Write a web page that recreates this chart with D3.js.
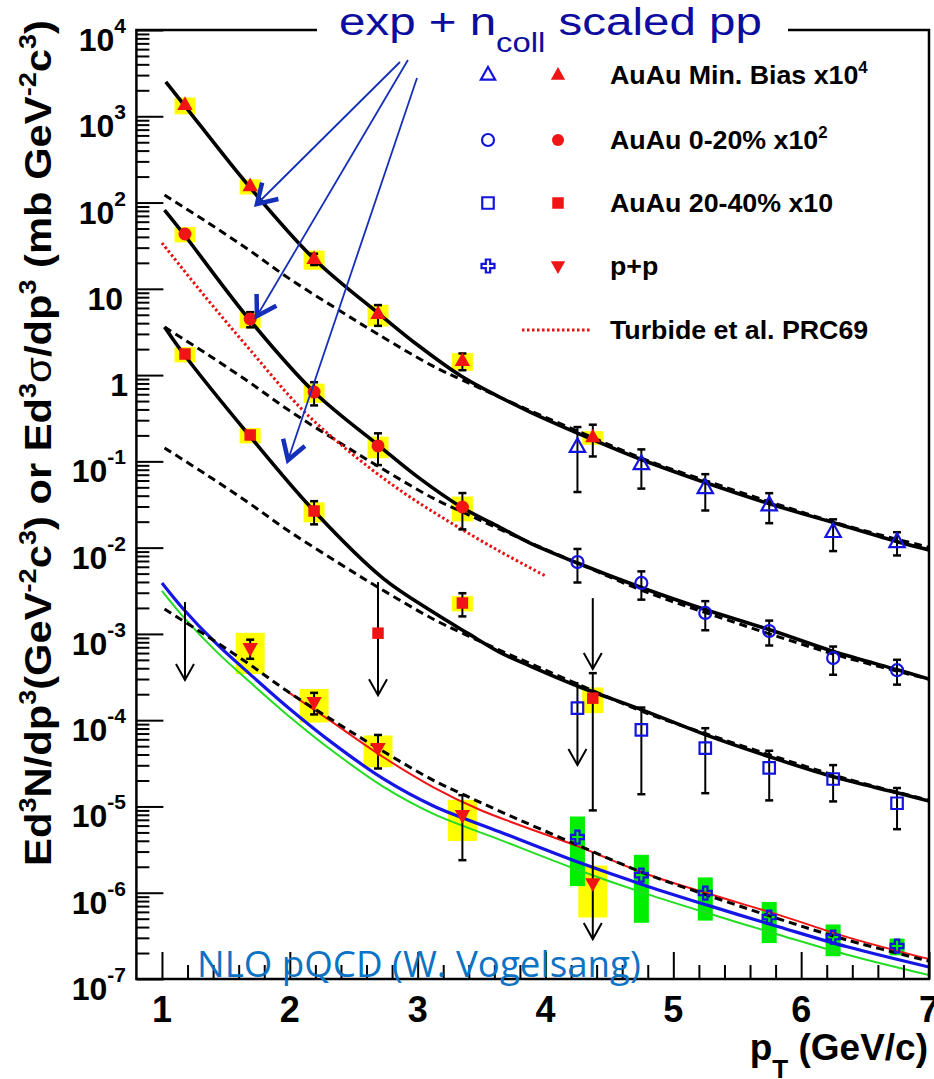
<!DOCTYPE html>
<html><head><meta charset="utf-8">
<script src="https://cdn.jsdelivr.net/npm/d3@7"></script>
<style>
body{margin:0;background:#fff}
svg{display:block}
text{font-family:"Liberation Sans",Arial,Helvetica,sans-serif}
</style>
</head><body>
<svg id="c" width="934" height="1079"></svg>
<script>
// ---------------- DATA ----------------
const xTicksMajor = [1,2,3,4,5,6,7];
const yExponents = [4,3,2,1,0,-1,-2,-3,-4,-5,-6,-7];

// AuAu Min. Bias x10^4 (red filled triangles, low pT)
const mbPt   = [1.18,1.69,2.19,2.69,3.35,4.37];
const mbY    = [1350,155,22.2,5.10,1.46,0.19];
const mbStat = [0,0,0.15,0.27,0.22,0.40];
const mbSys  = [0.22,0.20,0.25,0.28,0.23,0.18];
// AuAu 0-20% x10^2 (red filled circles)
const c020Pt   = [1.18,1.69,2.19,2.69,3.35];
const c020Y    = [43.2,4.47,0.636,0.151,0.0296];
const c020Stat = [0,0.2,0.3,0.4,0.45];
const c020Sys  = [0.2,0.22,0.25,0.28,0.32];
// AuAu 20-40% x10 (red filled squares)
const c2040Pt   = [1.18,1.69,2.19,2.69,3.35,4.37];
const c2040Y    = [1.755,0.202,0.0266,1.02e-3,2.28e-3,1.8e-4];
const c2040Stat = [0,0,0.3,0,0.3,0.95];
const c2040Sys  = [0.2,0.2,0.26,0,0.2,0.33];
// p+p (red filled down triangles)
const ppPt   = [1.69,2.19,2.69,3.35,4.37];
const ppY    = [6.86e-4,1.62e-4,4.75e-5,7.95e-6,1.29e-6];
const ppStat = [0.25,0.28,0.42,0.70,0];
const ppSys  = [0.5,0.42,0.40,0.50,0.6];

// high pT (open blue markers)
const hiPt = [4.25,4.75,5.25,5.75,6.25,6.75];
const mbHiY      = [0.147,0.093,0.049,0.031,0.0152,0.0116];
const mbHiStat   = [0.70,0.48,0.45,0.38,0.40,0.30];
const c020HiY    = [6.8e-3,3.9e-3,1.75e-3,1.08e-3,5.25e-4,3.8e-4];
const c020HiStat = [0.42,0.36,0.37,0.32,0.36,0.32];
const c2040HiY   = [1.38e-4,7.7e-5,4.75e-5,2.8e-5,2.08e-5,1.09e-5];
const c2040HiStat= [0,0.82,0.70,0.58,0.45,0.50];
const ppHiY      = [4.42e-6,1.60e-6,9.9e-7,5.22e-7,3.06e-7,2.41e-7];
const ppHiSys    = [0.73,0.72,0.52,0.50,0.40,0.22];

// upper-limit arrows (pT, from, to)
const ulPt  = [1.18,2.69,4.37,4.25,4.37];
const ulTop = [2.34e-3,3.99e-3,2.6e-3,2.77e-4,2.96e-6];
const ulBot = [2.92e-4,1.95e-4,3.92e-4,3.02e-5,2.9e-7];

// fits: exp + ncoll scaled pp (solid)
const fitMbPt = [1.03,1.18,1.68,2.19,2.70,3.00,3.34,3.64,3.88,4.25,4.76,5.26,5.76,6.26,6.76,7.0];
const fitMbY  = [2500,1315,155,22.2,5.1,2.23,0.975,0.557,0.373,0.213,0.1036,0.0561,0.032,0.0193,0.0116,0.0094];
const fit020Pt = [1.02,1.17,1.68,2.19,2.70,3.00,3.34,3.64,3.88,4.25,4.76,5.26,5.76,6.26,6.76,7.0];
const fit020Y  = [81.9,43.2,4.47,0.636,0.1506,0.066,0.0296,0.0173,0.0113,6.63e-3,3.40e-3,1.89e-3,1.109e-3,6.2e-4,3.81e-4,3.0e-4];
const fit2040Pt = [1.02,1.17,1.68,2.19,2.73,3.12,3.39,3.64,3.88,4.25,4.76,5.26,5.76,6.26,6.76,7.0];
const fit2040Y  = [3.61,1.755,0.202,0.02655,4.4e-3,1.79e-3,1.02e-3,6.16e-4,4.24e-4,2.49e-4,1.31e-4,6.72e-5,3.74e-5,2.19e-5,1.43e-5,1.155e-5];

// ncoll scaled pp (dashed)
const dashPt    = [1.02,1.34,1.67,1.99,2.37,2.70,3.12,3.35,3.64,4.27,4.79,5.31,5.83,6.36,7.0];
const ppDash    = [1.94e-3,9.70e-4,4.59e-4,2.12e-4,9.26e-5,4.63e-5,2.02e-5,1.392e-5,8.84e-6,3.47e-6,1.645e-6,8.9e-7,4.95e-7,2.83e-7,1.61e-7];
const mbDash    = [122,61.0,28.9,13.3,5.83,2.91,1.27,0.876,0.556,0.218,0.1035,0.056,0.0312,0.0178,0.0101];
const c020Dash  = [3.60,1.80,0.852,0.394,0.172,0.086,0.0375,0.0259,0.0164,6.44e-3,3.05e-3,1.65e-3,9.19e-4,5.26e-4,2.99e-4];
const c2040Dash = [0.143,0.0713,0.0337,0.0156,6.81e-3,3.40e-3,1.49e-3,1.02e-3,6.50e-4,2.55e-4,1.21e-4,6.54e-5,3.64e-5,2.08e-5,1.18e-5];

// Turbide et al. PRC69 (red dotted)
const turbPt = [1.0,1.34,1.69,2.10,2.47,2.86,3.25,3.64,4.0];
const turbY  = [34.0,8.04,1.95,0.394,0.128,0.0465,0.0198,9.1e-3,4.7e-3];

// NLO pQCD
const nloPt    = [1.0,1.16,1.43,1.69,2.0,2.34,2.73,3.12,3.64,4.27,4.79,5.31,5.83,6.36,7.0];
const nloBlue  = [3.89e-3,2.0e-3,7.6e-4,3.4e-4,1.35e-4,5.35e-5,2.1e-5,1.02e-5,5.1e-6,2.22e-6,1.2e-6,6.85e-7,4.0e-7,2.36e-7,1.375e-7];
const nloGreen = [3.15e-3,1.62e-3,6.15e-4,2.75e-4,1.09e-4,4.33e-5,1.7e-5,8.26e-6,4.13e-6,1.8e-6,9.7e-7,5.55e-7,3.24e-7,1.91e-7,1.11e-7];
const nloRedPt = [1.99,2.31,2.73,3.12,3.49,4.27,4.79,5.31,5.83,6.36,7.0];
const nloRed   = [2.1e-4,1.0e-4,3.74e-5,1.68e-5,9.1e-6,3.38e-6,1.65e-6,9.4e-7,5.5e-7,3.06e-7,1.7e-7];

// annotation arrows (data coords: start -> tip)
const annStart = [[2.862,4256],[2.924,4490],[2.995,2777]];
const annTip   = [[1.743,96.2],[1.743,4.84],[1.986,0.1035]];

const legendLabels = [["AuAu Min. Bias x10","4"],["AuAu 0-20% x10","2"],["AuAu 20-40% x10",""],["p+p",""],["Turbide et al. PRC69",""]];

// ---------------- DRAW ----------------
const svg = d3.select('#c');
const x = d3.scaleLinear().domain([0.8,7]).range([136.4,929]);
const y = d3.scaleLog().domain([1e-7,1e4]).range([979,30]);
const RED="#f01414", BLUE="#1414e0", YEL="#ffff00", GRN="#00ee00";

svg.append('clipPath').attr('id','clip').append('rect')
  .attr('x',136.4).attr('y',30).attr('width',929-136.4).attr('height',979-30);

const boxes = svg.append('g');
const curves = svg.append('g').attr('clip-path','url(#clip)');
const errs = svg.append('g');
const marks = svg.append('g');

function sysBoxes(pts, vals, sys, hw, color){
  pts.forEach((p,i)=>{
    if(!sys[i]) return;
    const v=vals[i], s=sys[i];
    boxes.append('rect').attr('x',x(p)-hw).attr('width',2*hw)
      .attr('y',y(v*(1+s))).attr('height',y(v*(1-s))-y(v*(1+s))).attr('fill',color);
  });
}
sysBoxes(mbPt,mbY,mbSys,10.5,YEL);
sysBoxes(c020Pt,c020Y,c020Sys,10.5,YEL);
sysBoxes(c2040Pt,c2040Y,c2040Sys,10.5,YEL);
sysBoxes(ppPt,ppY,ppSys,14.5,YEL);
sysBoxes(hiPt,ppHiY,ppHiSys,7.5,GRN);

function curve(pts, vals, color, width, dash){
  const data = pts.map((p,i)=>[p,vals[i]]);
  const line = d3.line().x(d=>x(d[0])).y(d=>y(d[1])).curve(d3.curveCatmullRom.alpha(0.5));
  const path = curves.append('path').datum(data).attr('d',line)
    .attr('fill','none').attr('stroke',color).attr('stroke-width',width);
  if(dash) path.attr('stroke-dasharray',dash);
}
curve(nloPt,nloGreen,"#22dd22",2);
curve(nloRedPt,nloRed,"#f01414",2);
curve(nloPt,nloBlue,"#1515e6",3.2);
curve(dashPt,ppDash,"#000",3,"8,5");
curve(dashPt,mbDash,"#000",3,"8,5");
curve(dashPt,c020Dash,"#000",3,"8,5");
curve(dashPt,c2040Dash,"#000",3,"8,5");
curve(turbPt,turbY,"#e81010",3,"2.5,2.5");
curve(fitMbPt,fitMbY,"#000",3.6);
curve(fit020Pt,fit020Y,"#000",3.6);
curve(fit2040Pt,fit2040Y,"#000",3.6);

function errBars(pts, vals, st){
  pts.forEach((p,i)=>{
    if(!st[i]) return;
    const v=vals[i], s=st[i], xp=x(p);
    const y1=y(v*(1+s)), y2=y(v*(1-s));
    errs.append('line').attr('x1',xp).attr('x2',xp).attr('y1',y1).attr('y2',y2).attr('stroke','#000').attr('stroke-width',2);
    [y1,y2].forEach(yy=>errs.append('line').attr('x1',xp-4).attr('x2',xp+4).attr('y1',yy).attr('y2',yy).attr('stroke','#000').attr('stroke-width',2.5));
  });
}
errBars(mbPt,mbY,mbStat);
errBars(c020Pt,c020Y,c020Stat);
errBars(c2040Pt,c2040Y,c2040Stat);
errBars(ppPt,ppY,ppStat);
errBars(hiPt,mbHiY,mbHiStat);
errBars(hiPt,c020HiY,c020HiStat);
errBars(hiPt,c2040HiY,c2040HiStat);

ulPt.forEach((p,i)=>{
  const xp=x(p), y1=y(ulTop[i]), y2=y(ulBot[i]);
  errs.append('line').attr('x1',xp).attr('x2',xp).attr('y1',y1).attr('y2',y2).attr('stroke','#000').attr('stroke-width',2);
  errs.append('path').attr('d',`M${xp-9},${y2-16}L${xp},${y2}L${xp+9},${y2-16}`)
    .attr('fill','none').attr('stroke','#000').attr('stroke-width',2);
});

// marker shapes
const SH = {
  triUp:  (s)=>`M0,${-s*0.62}L${s*0.55},${s*0.36}L${-s*0.55},${s*0.36}Z`,
  triDown:(s)=>`M0,${s*0.62}L${s*0.55},${-s*0.36}L${-s*0.55},${-s*0.36}Z`,
  circle: (s)=>d3.symbol(d3.symbolCircle, Math.PI*s*s/4)(),
  square: (s)=>`M${-s/2},${-s/2}h${s}v${s}h${-s}Z`,
  cross:  (s)=>{const h=s/2,a=s/6;return `M${-a},${-h}H${a}V${-a}H${h}V${a}H${a}V${h}H${-a}V${a}H${-h}V${-a}H${-a}Z`;}
};
function marker(g, shape, px, py, size, filled, color){
  const p = g.append('path').attr('d',SH[shape](size)).attr('transform',`translate(${px},${py})`);
  if(filled) p.attr('fill',color).attr('stroke','none');
  else p.attr('fill','none').attr('stroke',color).attr('stroke-width',2.2);
}
mbPt.forEach((p,i)=>marker(marks,'triUp',x(p),y(mbY[i]),14,true,RED));
c020Pt.forEach((p,i)=>marker(marks,'circle',x(p),y(c020Y[i]),13,true,RED));
c2040Pt.forEach((p,i)=>marker(marks,'square',x(p),y(c2040Y[i]),11.5,true,RED));
ppPt.forEach((p,i)=>marker(marks,'triDown',x(p),y(ppY[i]),14,true,RED));
hiPt.forEach((p,i)=>{
  marker(marks,'triUp',x(p),y(mbHiY[i]),14,false,BLUE);
  marker(marks,'circle',x(p),y(c020HiY[i]),12,false,BLUE);
  marker(marks,'square',x(p),y(c2040HiY[i]),11.5,false,BLUE);
  marker(marks,'cross',x(p),y(ppHiY[i]),13,false,BLUE);
});

// axes (ticks inward)
const axG = svg.append('g');
const yMinor=[]; for(let e=-7;e<4;e++) for(let k=2;k<10;k++) yMinor.push(k*Math.pow(10,e));
const xMinor=[]; for(let v=1.2; v<7; v+=0.2){ if(Math.abs(v-Math.round(v))>0.01) xMinor.push(+v.toFixed(1)); }
function styleAxis(g){ g.select('.domain').remove(); g.selectAll('line').attr('stroke','#000').attr('stroke-width',2); g.selectAll('text').remove(); }
axG.append('g').attr('transform','translate(136.4,0)').call(d3.axisLeft(y).tickValues(yExponents.map(e=>Math.pow(10,e))).tickSize(-27).tickFormat('')).call(styleAxis);
axG.append('g').attr('transform','translate(136.4,0)').call(d3.axisLeft(y).tickValues(yMinor).tickSize(-13).tickFormat('')).call(styleAxis);
axG.append('g').attr('transform','translate(0,979)').call(d3.axisBottom(x).tickValues(xTicksMajor).tickSize(-27).tickFormat('')).call(styleAxis);
axG.append('g').attr('transform','translate(0,979)').call(d3.axisBottom(x).tickValues(xMinor).tickSize(-14).tickFormat('')).call(styleAxis);

// frame
const fr = svg.append('g').attr('stroke','#000').attr('stroke-width',2.5).attr('fill','none');
fr.append('path').attr('d',`M317,30H136.4V979H929V30H788`);

// y tick labels
yExponents.forEach(e=>{
  const ty=y(Math.pow(10,e));
  const t=svg.append('text').attr('x',e===0?128:(e===1?123:126)).attr('y',ty+21)
    .attr('text-anchor','end').attr('font-weight','bold').attr('font-size',32);
  if(e===0) t.text('1');
  else if(e===1) t.text('10');
  else { t.append('tspan').text('10'); t.append('tspan').attr('dy',-18).attr('font-size',21).text(String(e)); }
});
// x tick labels
xTicksMajor.forEach(v=>{
  svg.append('text').attr('x',x(v)).attr('y',1022).attr('text-anchor','middle')
    .attr('font-weight','bold').attr('font-size',36).text(v);
});
// x title
const xt = svg.append('text').attr('x',928).attr('y',1060).attr('text-anchor','end')
  .attr('font-weight','bold').attr('font-size',37);
xt.append('tspan').text('p');
xt.append('tspan').attr('dy',18).attr('font-size',26).text('T');
xt.append('tspan').attr('dy',-18).text(' (GeV/c)');

// y title
const ytG = svg.append('g');
const yt = ytG.append('text').attr('text-anchor','middle').attr('font-weight','bold').attr('font-size',37);
const ytParts = [["Ed",0],["3",1],["N/dp",0],["3",1],["(GeV",0],["-2",1],["c",0],["3",1],[") or Ed",0],["3",1],["σ",2],["/dp",0],["3",1],[" (mb GeV",0],["-2",1],["c",0],["3",1],[")",0]];
let prevSup=false;
ytParts.forEach(([s,k])=>{
  const ts=yt.append('tspan').text(s);
  if(k===1){ ts.attr('font-size',24).attr('dy',prevSup?0:-15); prevSup=true; }
  else { if(prevSup) ts.attr('dy',15); prevSup=false; if(k===2) ts.attr('font-weight','normal'); }
});
{
  const bb=yt.node().getBBox();
  const k=846/bb.width;
  ytG.attr('transform',`translate(51,443) rotate(-90) scale(${k},1)`);
}

// title
const tG = svg.append('g');
const tt = tG.append('text').attr('font-size',39).attr('fill','#0c0c9e');
tt.append('tspan').text('exp + n');
tt.append('tspan').attr('dy',17).attr('font-size',27).text('coll');
tt.append('tspan').attr('dy',-17).text(' scaled pp');
{ const bb=tt.node().getBBox(); tG.attr('transform',`translate(339,35) scale(${423/bb.width},1)`); }

// NLO label
const nG = svg.append('g');
const nt = nG.append('text').attr('font-size',36).attr('fill','#0b72c4')
  .style('font-family','"Open Sans","Noto Sans",sans-serif').text('NLO pQCD (W. Vogelsang)');
{ const bb=nt.node().getBBox(); nG.attr('transform',`translate(197,977) scale(${444/bb.width},1)`); }

// annotation arrows
const ann = svg.append('g').attr('stroke','#1530b8').attr('fill','none');
annStart.forEach((s,i)=>{
  const x0=x(s[0]), y0=y(s[1]), x1=x(annTip[i][0]), y1=y(annTip[i][1]);
  ann.append('line').attr('x1',x0).attr('y1',y0).attr('x2',x1).attr('y2',y1).attr('stroke-width',1.8);
  const ang=Math.atan2(y0-y1,x0-x1), L=22, hA=0.55;
  const a1=[x1+L*Math.cos(ang+hA), y1+L*Math.sin(ang+hA)], a2=[x1+L*Math.cos(ang-hA), y1+L*Math.sin(ang-hA)];
  ann.append('path').attr('d',`M${a1}L${x1},${y1}L${a2}`).attr('stroke-width',4.5).attr('stroke-linejoin','miter');
});

// legend
const rows=[75,140,203,266,330];
const lg = svg.append('g');
marker(lg,'triUp',488,rows[0],13,false,BLUE); marker(lg,'triUp',558,rows[0],13,true,RED);
marker(lg,'circle',488,rows[1],12,false,BLUE); marker(lg,'circle',558,rows[1],12,true,RED);
marker(lg,'square',488,rows[2],11.5,false,BLUE); marker(lg,'square',558,rows[2],11.5,true,RED);
marker(lg,'cross',488,rows[3],13,false,BLUE); marker(lg,'triDown',558,rows[3],13,true,RED);
lg.append('line').attr('x1',522).attr('x2',592).attr('y1',rows[4]).attr('y2',rows[4])
  .attr('stroke','#e81010').attr('stroke-width',3).attr('stroke-dasharray','2.5,2.5');
legendLabels.forEach((l,i)=>{
  const g=lg.append('g').attr('transform',`translate(610,${rows[i]+9}) scale(1.05,1)`);
  const t=g.append('text').attr('x',0).attr('y',0).attr('font-weight','bold').attr('font-size',25.5);
  t.append('tspan').text(l[0]);
  if(l[1]) t.append('tspan').attr('dy',-11).attr('font-size',16).text(l[1]);
});
</script>
</body></html>
